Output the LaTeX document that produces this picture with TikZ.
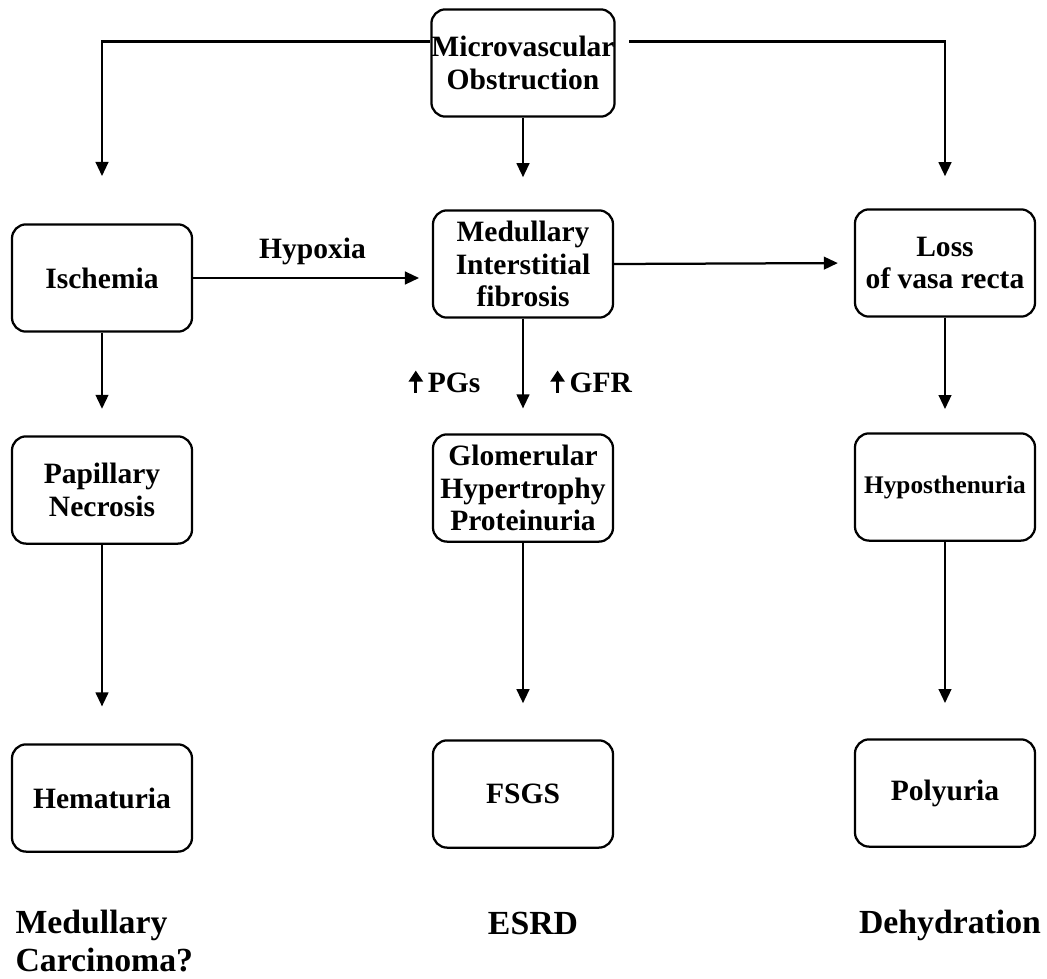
\documentclass[tikz,border=0pt]{standalone}
\usepackage{fontspec}
\setmainfont{Liberation Serif}
\usetikzlibrary{positioning}
\usetikzlibrary{arrows.meta}

\tikzset{
  box/.style={align=center, rectangle, rounded corners=5pt, draw, line width=0.8pt,
    inner xsep=0pt, minimum width=2.25cm, minimum height=1.34cm,
    font=\bfseries\fontsize{10.5}{11.5}\selectfont},
  arr/.style={line width=0.8pt, -{Triangle[length=5pt,width=4.5pt]}},
  lbl/.style={font=\bfseries\fontsize{10.5}{12}\selectfont},
  outcome/.style={align=left, inner sep=0pt, font=\bfseries\fontsize{12}{13.5}\selectfont},
}
\newcommand{\upmark}{\tikz[baseline=0pt]\draw[line width=1pt, shorten >=0pt, shorten <=0pt,
  -{Triangle[length=4pt,width=5pt]}] (0,0) -- (0,8pt);\,}

\begin{document}
\begin{tikzpicture}[x=0.0125cm, y=-0.0125cm]
\useasboundingbox (0,0) rectangle (1047,978);
% boxes
\node (mvo) at (523,63) [box]{Microvascular\\Obstruction};
\node (isch) at (102,278) [box]{Ischemia};
\node (mif) at (523,264) [box]{Medullary\\Interstitial\\fibrosis};
\node (lvr) at (945,263) [box]{Loss\\of vasa recta};
\node (papn) at (102,490) [box]{Papillary\\Necrosis};
\node (ghp) at (523,488) [box]{Glomerular\\Hypertrophy\\Proteinuria};
\node (hypo) at (945,487) [box, font=\bfseries\fontsize{9}{11}\selectfont]{Hyposthenuria};
\node (hema) at (102,798) [box]{Hematuria};
\node (fsgs) at (523,794) [box]{FSGS};
\node (poly) at (945,793) [box]{Polyuria};

% outcomes
\node (mca) at (15,910) [outcome, anchor=north west]{Medullary\\Carcinoma?};
\node (esrd) at (533,912) [outcome, anchor=north]{ESRD};
\node (dehy) at (950,910) [outcome, anchor=north]{Dehydration};

% arrows
\draw[arr, shorten >=0.59cm] (mvo.167) -| (isch.north);
\draw[arr, shorten <=0.17cm, shorten >=0.4cm] (mvo.13) -| (lvr.north);
\draw[arr, shorten >=0.4cm] (mvo) -- (mif);
\draw[arr, shorten >=0.16cm] (isch.east) -- (isch.east -| mif.west) node [pos=0.5, above=1pt, lbl]{Hypoxia};
\draw[arr, shorten >=0.2cm] (mif.east) -- (lvr.west);
\draw[arr, shorten >=0.31cm] (mif) -- (ghp)
  node [pos=0.55, left=0.41cm, lbl]{\upmark PGs}
  node [pos=0.55, right=0.22cm, lbl]{\upmark GFR};
\draw[arr, shorten >=0.33cm] (isch) -- (papn);
\draw[arr, shorten >=0.29cm] (lvr) -- (hypo);
\draw[arr, shorten >=0.46cm] (papn) -- (hema);
\draw[arr, shorten >=0.45cm] (ghp) -- (fsgs);
\draw[arr, shorten >=0.44cm] (hypo) -- (poly);
\end{tikzpicture}
\end{document}
